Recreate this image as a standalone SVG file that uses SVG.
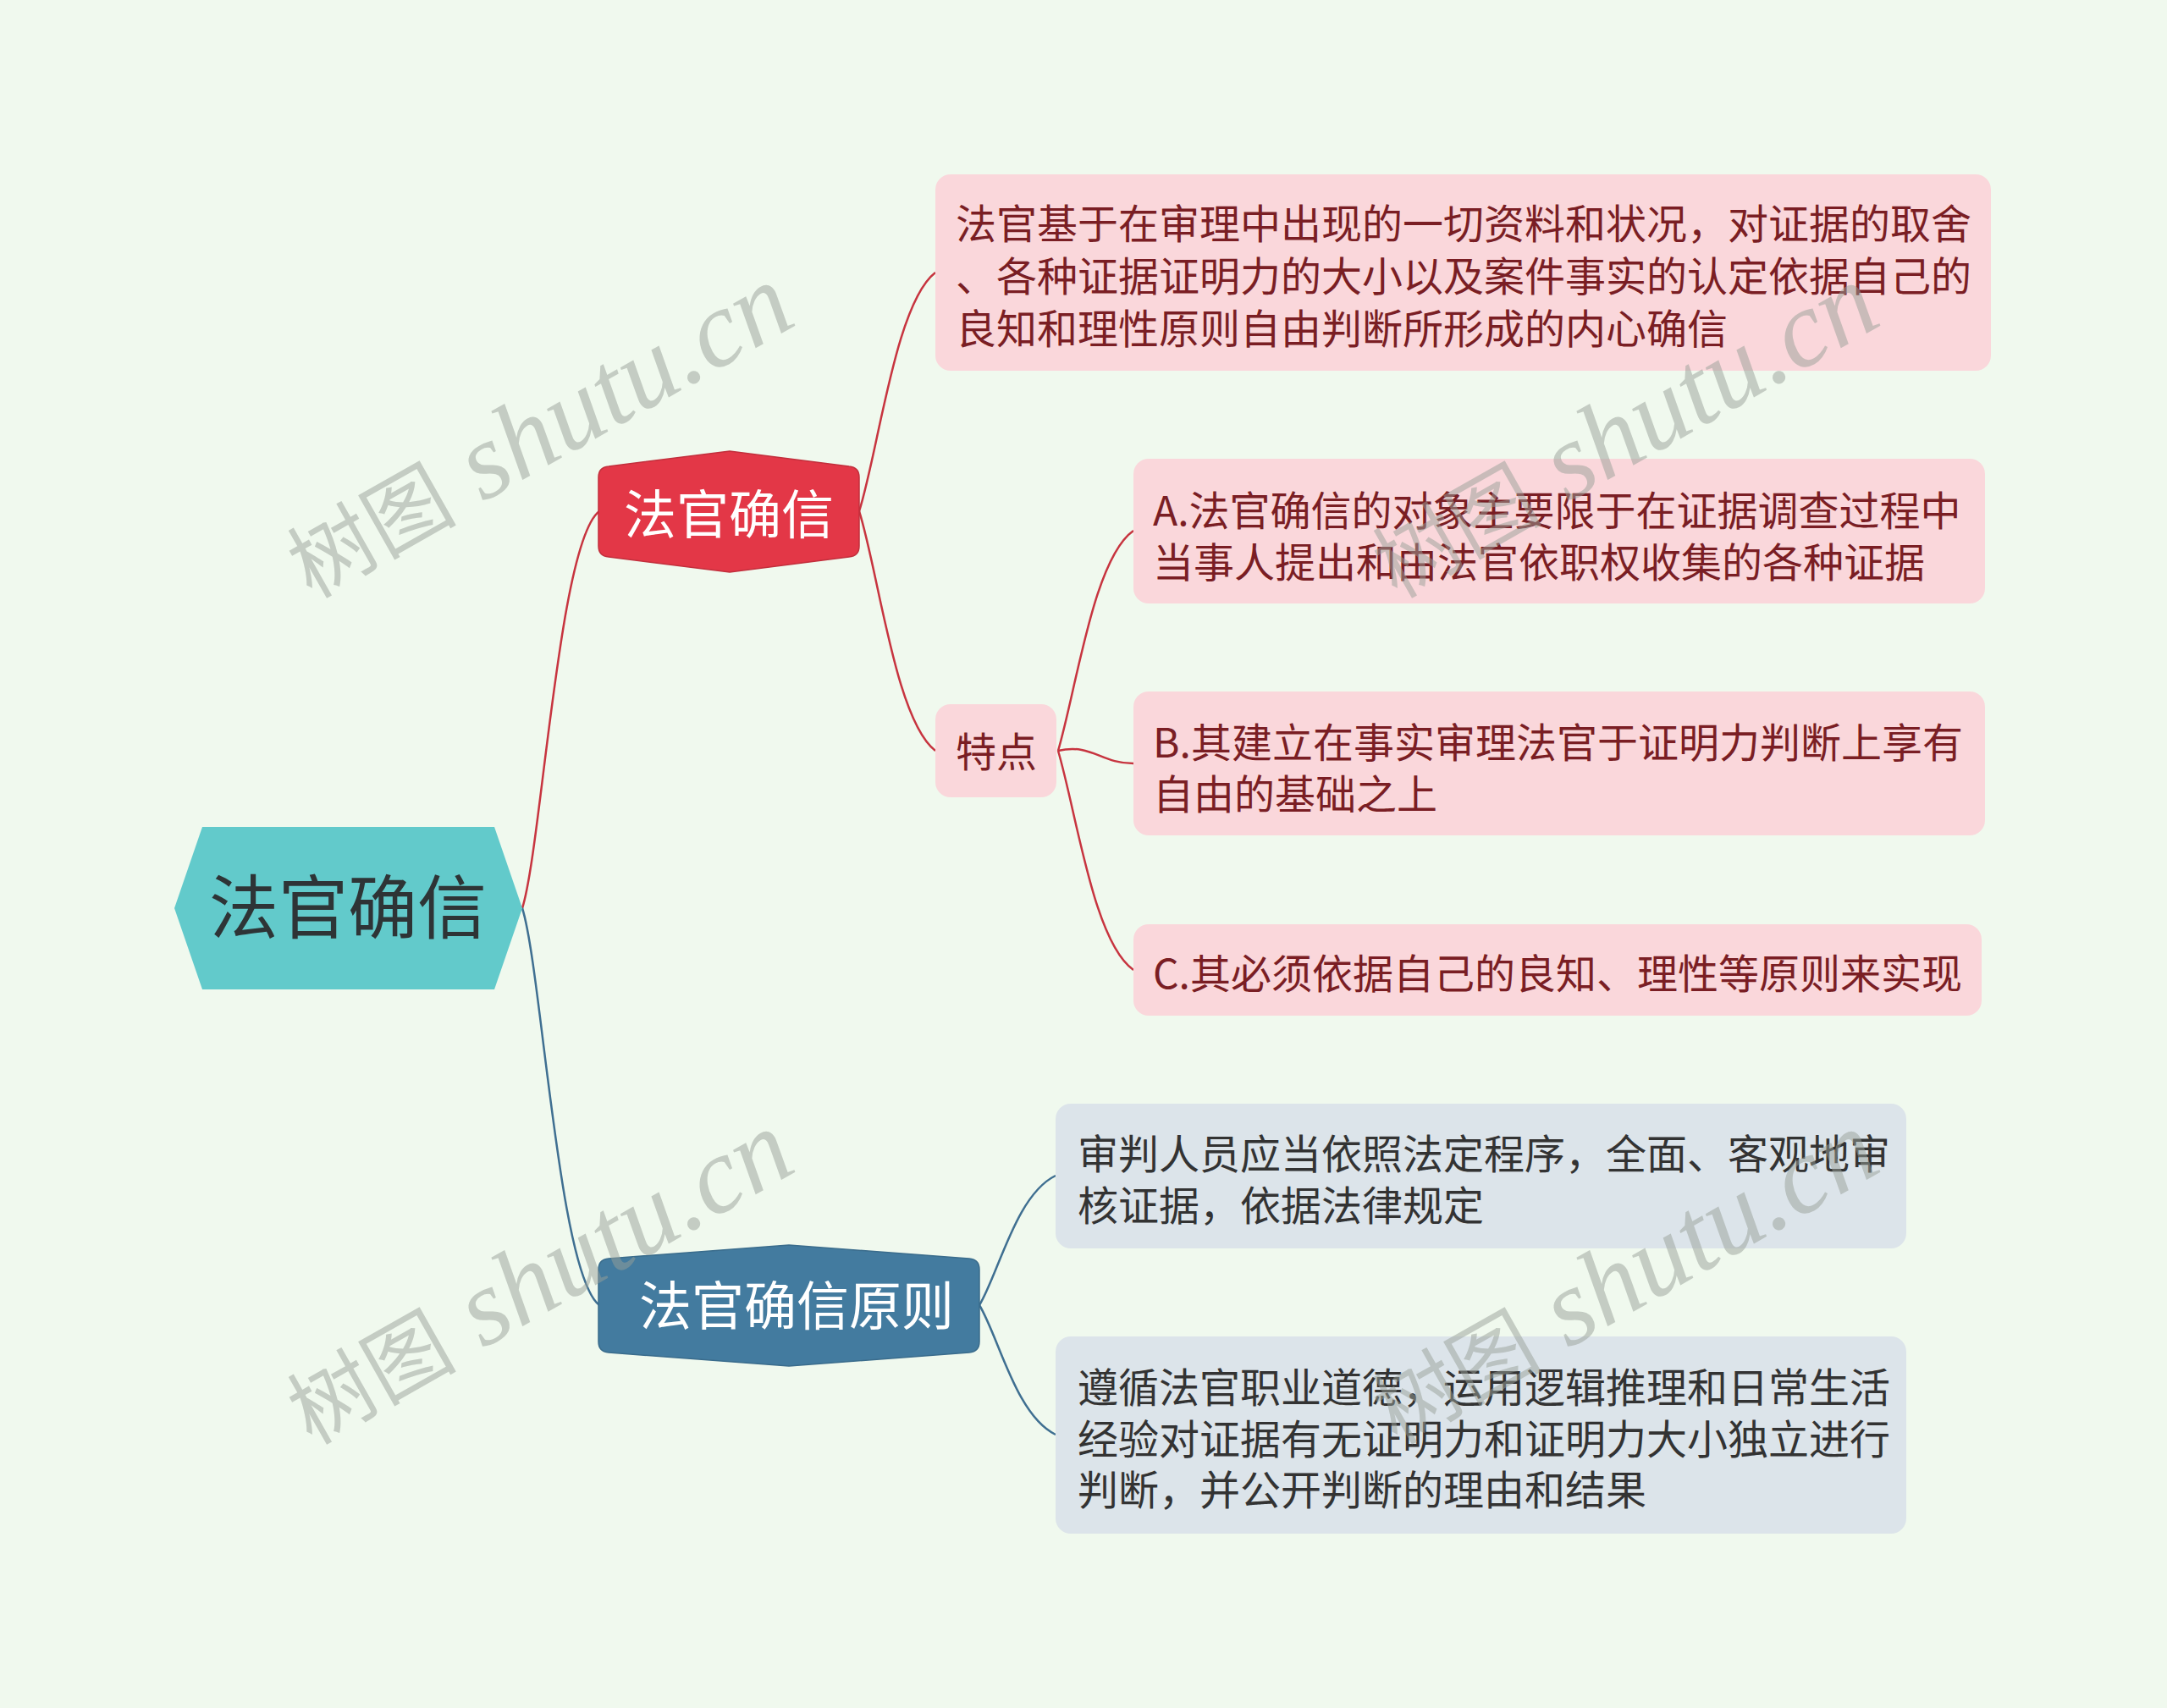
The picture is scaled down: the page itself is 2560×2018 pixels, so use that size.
<svg xmlns="http://www.w3.org/2000/svg" width="2560" height="2018" viewBox="0 0 2560 2018">
<style>
.t{font-family:"Noto Sans CJK SC","Noto Sans",sans-serif;}
.leaf{font-size:48px;}
.pk{fill:#FAD7DB;}
.pt{fill:#7A1E24;}
.bl{fill:#DCE4EA;}
.bt{fill:#333333;}
.cr{fill:none;stroke:#C7343F;stroke-width:2.5;}
.cb{fill:none;stroke:#3F6F91;stroke-width:2.5;}
.wm{font-family:"Liberation Serif","Noto Sans CJK SC",serif;font-size:100px;fill:#98A098;fill-opacity:0.5;}
.wl{font-size:128px;font-style:italic;}
</style>
<rect x="0" y="0" width="2560" height="2018" fill="#F0F9EE"/>

<g id="connectors">
<path class="cr" d="M617,1073 C640,1000 660,640 708,604"/>
<path class="cb" d="M617,1073 C640,1146 660,1506 708,1542"/>
<path class="cr" d="M1015,604 C1038,531 1058,358 1105,322"/>
<path class="cr" d="M1015,604 C1038,677 1058,851 1105,887"/>
<path class="cr" d="M1250,887 C1272,812 1292,660 1339,627"/>
<path class="cr" d="M1250,887 C1290,878 1300,902 1339,902"/>
<path class="cr" d="M1250,887 C1272,962 1292,1113 1339,1146"/>
<path class="cb" d="M1157,1542 C1180,1504 1200,1412 1247,1389"/>
<path class="cb" d="M1157,1542 C1180,1580 1200,1672 1247,1695"/>
</g>

<g id="root">
<polygon points="206,1073 239,977 584,977 617,1073 584,1169 239,1169" fill="#62CACB"/>
<text class="t" x="411" y="1102" font-size="82" text-anchor="middle" fill="#2E3436">法官确信</text>
</g>

<g id="n-faguanquexin">
<path d="M719,551 L862,533 L1003,551 Q1015,552 1015,564 L1015,645 Q1015,657 1003,658 L862,676 L719,658 Q707,657 707,645 L707,564 Q707,552 719,551 Z" fill="#E33747" stroke="#C22F3C" stroke-width="1.5"/>
<text class="t" x="861" y="631" font-size="62" text-anchor="middle" fill="#FFFFFF">法官确信</text>
</g>

<g id="n-definition">
<rect class="pk" x="1105" y="206" width="1247" height="232" rx="18"/>
<text class="t leaf pt"><tspan x="1129" y="282">法官基于在审理中出现的一切资料和状况，对证据的取舍</tspan><tspan x="1129" y="344">、各种证据证明力的大小以及案件事实的认定依据自己的</tspan><tspan x="1129" y="406">良知和理性原则自由判断所形成的内心确信</tspan></text>
</g>

<g id="n-tedian">
<rect class="pk" x="1105" y="832" width="143" height="110" rx="18"/>
<text class="t leaf pt" x="1177" y="906" text-anchor="middle">特点</text>
</g>

<g id="n-a">
<rect class="pk" x="1339" y="542" width="1006" height="171" rx="18"/>
<text class="t leaf pt"><tspan x="1362" y="621">A.法官确信的对象主要限于在证据调查过程中</tspan><tspan x="1362" y="682">当事人提出和由法官依职权收集的各种证据</tspan></text>
</g>

<g id="n-b">
<rect class="pk" x="1339" y="817" width="1006" height="170" rx="18"/>
<text class="t leaf pt"><tspan x="1362" y="895">B.其建立在事实审理法官于证明力判断上享有</tspan><tspan x="1362" y="956">自由的基础之上</tspan></text>
</g>

<g id="n-c">
<rect class="pk" x="1339" y="1092" width="1002" height="108" rx="18"/>
<text class="t leaf pt" x="1362" y="1168">C.其必须依据自己的良知、理性等原则来实现</text>
</g>

<g id="n-yuanze">
<path d="M719,1487 L932,1471 L1145,1487 Q1157,1488 1157,1500 L1157,1585 Q1157,1597 1145,1598 L932,1614 L719,1598 Q707,1597 707,1585 L707,1500 Q707,1488 719,1487 Z" fill="#437B9F" stroke="#3A6C8C" stroke-width="1.5"/>
<text class="t" x="941" y="1566" font-size="62" text-anchor="middle" fill="#FFFFFF">法官确信原则</text>
</g>

<g id="n-y1">
<rect class="bl" x="1247" y="1304" width="1005" height="171" rx="18"/>
<text class="t leaf bt"><tspan x="1273" y="1381">审判人员应当依照法定程序，全面、客观地审</tspan><tspan x="1273" y="1442">核证据，依据法律规定</tspan></text>
</g>

<g id="n-y2">
<rect class="bl" x="1247" y="1579" width="1005" height="233" rx="18"/>
<text class="t leaf bt"><tspan x="1273" y="1657">遵循法官职业道德，运用逻辑推理和日常生活</tspan><tspan x="1273" y="1718">经验对证据有无证明力和证明力大小独立进行</tspan><tspan x="1273" y="1778">判断，并公开判断的理由和结果</tspan></text>
</g>

<g id="watermarks">
<text class="wm" transform="translate(368,708) rotate(-29.5)">树图<tspan class="wl"> shutu.cn</tspan></text>
<text class="wm" transform="translate(1650,708) rotate(-29.5)">树图<tspan class="wl"> shutu.cn</tspan></text>
<text class="wm" transform="translate(368,1708) rotate(-29.5)">树图<tspan class="wl"> shutu.cn</tspan></text>
<text class="wm" transform="translate(1650,1708) rotate(-29.5)">树图<tspan class="wl"> shutu.cn</tspan></text>
</g>
</svg>
